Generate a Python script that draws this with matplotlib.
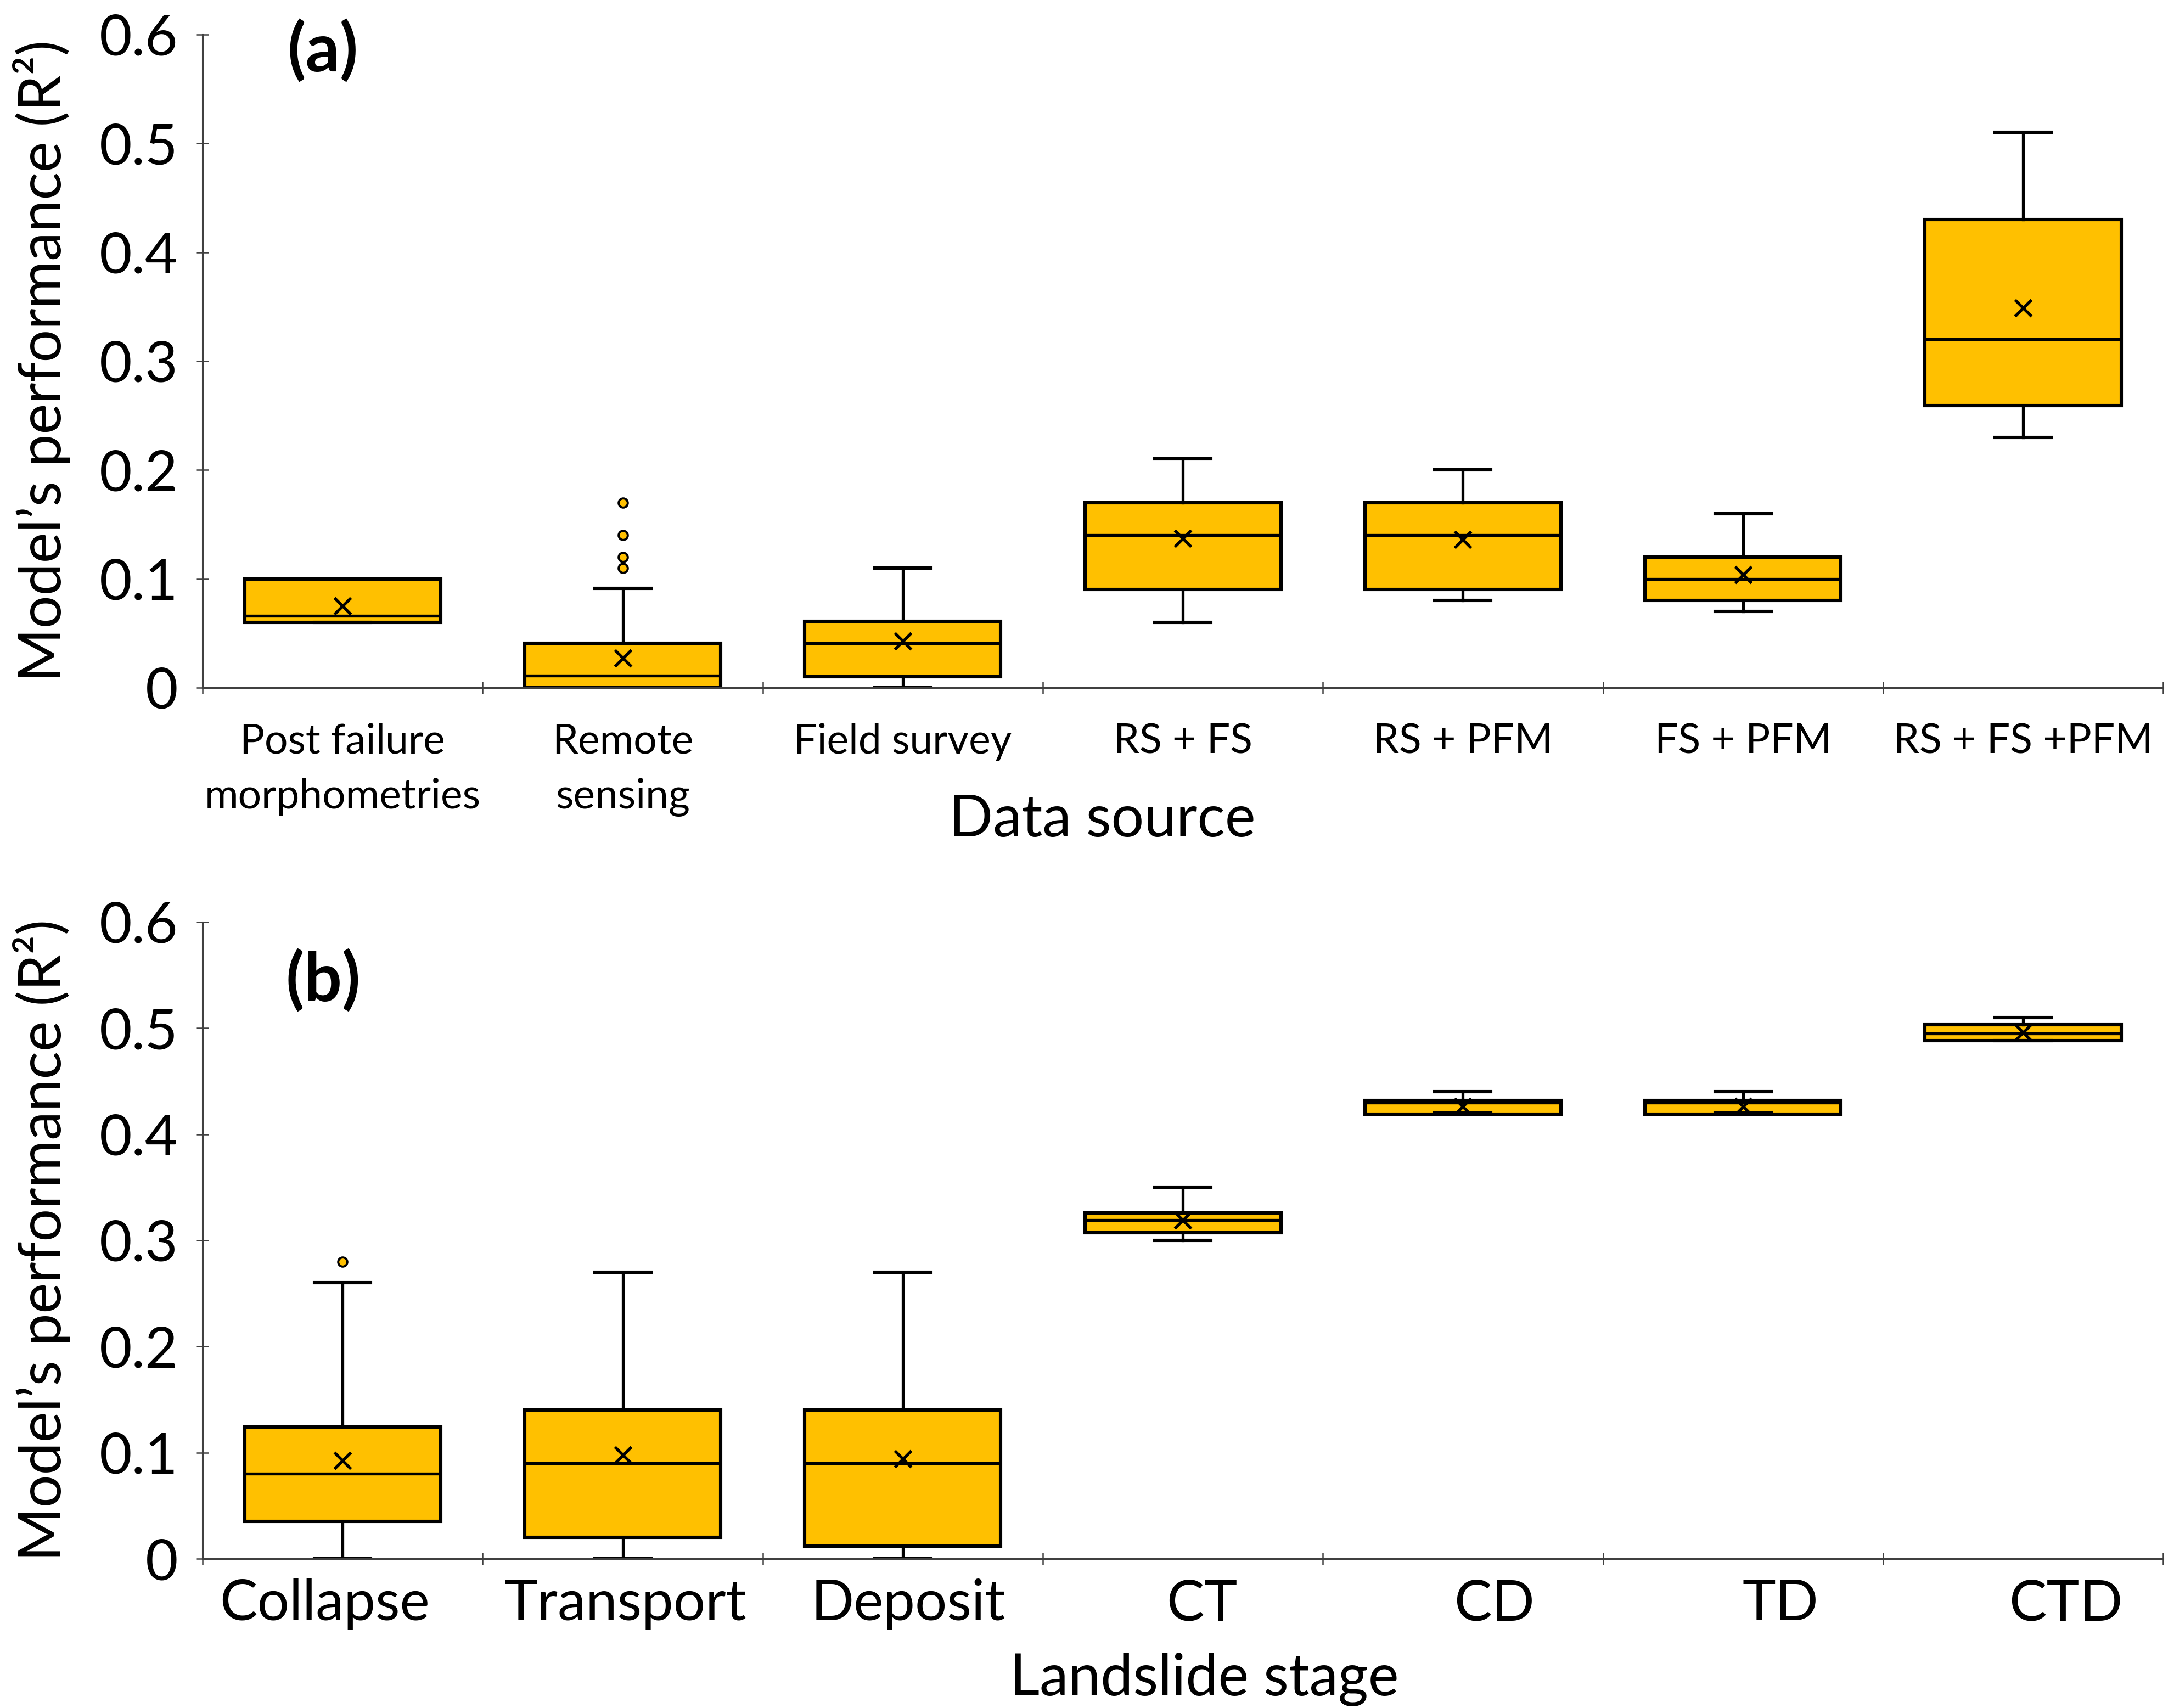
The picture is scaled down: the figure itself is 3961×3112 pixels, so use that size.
import matplotlib
matplotlib.use("Agg")
import matplotlib.pyplot as plt
from matplotlib.ticker import FixedLocator, NullFormatter, FuncFormatter
from matplotlib.transforms import ScaledTranslation

plt.rcParams['font.family'] = ['Lato', 'DejaVu Sans']

# panel (a): data source
sources = ["Post failure\nmorphometries", "Remote\nsensing", "Field survey",
           "RS + FS", "RS + PFM", "FS + PFM", "RS + FS +PFM"]
a_low = [0.06, 0.0, 0.0, 0.06, 0.08, 0.07, 0.23]
a_q1 = [0.06, 0.0, 0.01, 0.09, 0.09, 0.08, 0.259]
a_med = [0.066, 0.011, 0.041, 0.14, 0.14, 0.10, 0.32]
a_q3 = [0.10, 0.041, 0.061, 0.17, 0.17, 0.12, 0.43]
a_high = [0.10, 0.091, 0.11, 0.21, 0.20, 0.16, 0.51]
a_mean = [0.075, 0.027, 0.043, 0.137, 0.136, 0.104, 0.349]
a_fliers = [[], [0.17, 0.14, 0.12, 0.11], [], [], [], [], []]

# panel (b): landslide stage
stages = ["Collapse", "Transport", "Deposit", "CT", "CD", "TD", "CTD"]
b_low = [0.0, 0.0, 0.0, 0.30, 0.42, 0.42, 0.488]
b_q1 = [0.035, 0.02, 0.012, 0.307, 0.419, 0.419, 0.488]
b_med = [0.08, 0.09, 0.09, 0.319, 0.43, 0.43, 0.495]
b_q3 = [0.124, 0.14, 0.14, 0.326, 0.432, 0.432, 0.503]
b_high = [0.26, 0.27, 0.27, 0.35, 0.44, 0.44, 0.51]
b_mean = [0.0925, 0.0975, 0.094, 0.319, 0.426, 0.426, 0.496]
b_fliers = [[0.28], [], [], [], [], [], []]

yticks = [0, 0.1, 0.2, 0.3, 0.4, 0.5, 0.6]

# the stage labels in the original are nudged sideways (inches)
b_label_shift = [-0.33, 0.05, 0.1, 0.35, 0.57, 0.68, 0.78]

GOLD = "#FFC000"
AXC = "#404040"


def make_stats(labels, low, q1, med, q3, high, mean, fliers):
    stats = []
    for i in range(len(labels)):
        stats.append({"label": labels[i], "whislo": low[i], "q1": q1[i],
                      "med": med[i], "q3": q3[i], "whishi": high[i],
                      "mean": mean[i], "fliers": fliers[i]})
    return stats


def draw_panel(ax, stats, tick_size, tick_pad, xlabel, label_x, label_y,
               letter, letter_y, shifts=None):
    n = len(stats)
    pos = list(range(1, n + 1))
    ax.bxp(stats, positions=pos, widths=0.7, capwidths=0.2,
           patch_artist=True, showmeans=True,
           boxprops=dict(facecolor=GOLD, edgecolor="black", linewidth=4.4),
           medianprops=dict(color="black", linewidth=3.8),
           whiskerprops=dict(color="black", linewidth=3.8),
           capprops=dict(color="black", linewidth=4.4),
           meanprops=dict(marker="x", markersize=21, markeredgecolor="black",
                          markeredgewidth=3.8),
           flierprops=dict(marker="o", markersize=12, markerfacecolor=GOLD,
                           markeredgecolor="black", markeredgewidth=2.8))

    ax.set_xlim(0.5, n + 0.5)
    ax.set_ylim(0, 0.6)
    for s in ["top", "right"]:
        ax.spines[s].set_visible(False)
    for s in ["left", "bottom"]:
        ax.spines[s].set_color(AXC)
        ax.spines[s].set_linewidth(2.2)

    # tick marks between categories, labels at centres
    ax.xaxis.set_major_locator(FixedLocator([p - 0.5 for p in pos] + [n + 0.5]))
    ax.xaxis.set_major_formatter(NullFormatter())
    ax.xaxis.set_minor_locator(FixedLocator(pos))
    ax.set_xticklabels([st["label"] for st in stats], minor=True)
    ax.tick_params(axis="x", which="major", direction="inout", length=16,
                   width=1.8, color=AXC)
    ax.tick_params(axis="x", which="minor", length=0, pad=tick_pad,
                   labelsize=tick_size)
    for i, t in enumerate(ax.get_xticklabels(minor=True)):
        t.set_linespacing(1.55)
        if shifts is not None:
            t.set_transform(t.get_transform() +
                            ScaledTranslation(shifts[i], 0, ax.figure.dpi_scale_trans))

    ax.set_yticks(yticks)
    ax.yaxis.set_major_formatter(FuncFormatter(lambda v, p: "%g" % round(v, 2)))
    ax.tick_params(axis="y", direction="inout", length=16, width=1.8,
                   color=AXC, labelsize=74, pad=24)

    ax.set_ylabel("Model\u2019s performance (R\u00b2)", fontsize=76)
    ax.yaxis.label.set_va("center")
    ax.yaxis.set_label_coords(-0.082, 0.5)

    ax.set_xlabel(xlabel, fontsize=76)
    ax.xaxis.label.set_va("baseline")
    ax.xaxis.set_label_coords(label_x, label_y)

    ax.text(0.93, letter_y, letter, fontsize=88, fontweight="bold",
            ha="center", va="center", clip_on=False)


fig = plt.figure(figsize=(39.61, 31.12), dpi=100)
ax1 = fig.add_axes([0.0932, 0.5974, 0.9018, 0.3824])
ax2 = fig.add_axes([0.0932, 0.0874, 0.9018, 0.3728])

draw_panel(ax1, make_stats(sources, a_low, a_q1, a_med, a_q3, a_high, a_mean, a_fliers),
           54, 46, "Data source", 0.459, -0.228, "(a)", 0.585)
draw_panel(ax2, make_stats(stages, b_low, b_q1, b_med, b_q3, b_high, b_mean, b_fliers),
           74, 26, "Landslide stage", 0.511, -0.215, "(b)", 0.545,
           shifts=b_label_shift)

fig.savefig("out.png", dpi=100)
